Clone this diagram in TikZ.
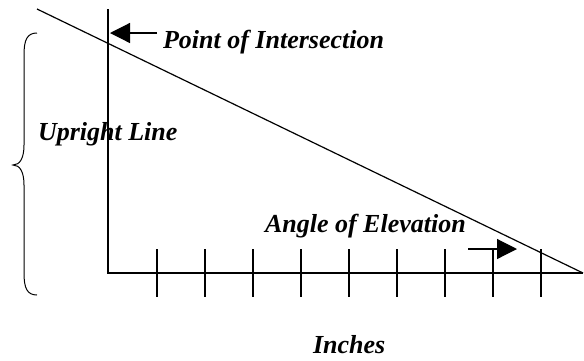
\documentclass[tikz,border=0pt]{standalone}
\usepackage{fontspec}
\setmainfont{Liberation Serif}
\usetikzlibrary{arrows.meta, positioning}

\begin{document}
\begin{tikzpicture}[
    x=1pt, y=-1pt,
    line width=1.2pt,
    lbl/.style={font=\fontsize{26}{30}\selectfont\bfseries\itshape, inner sep=0pt, outer sep=0pt},
    pointer/.style={-{Triangle[length=20pt, width=20pt]}, line width=1.2pt}
]
    \useasboundingbox (0,0) rectangle (584,360);

    \coordinate (start) at (37,9);
    \coordinate (top) at (108,9);
    \coordinate (corner) at (108,273);
    \coordinate (far) at (583,273);

    \draw (top) -- (corner) -- (far);
    \draw (start) -- (far);

    % marcas
    \foreach \x in {157,205,...,541}
        \draw[line width=1.5pt] (\x,249) -- (\x,297);

    \node[lbl, anchor=base west] (point) at (163,48) {Point of Intersection};
    \node[lbl, anchor=base west] (upright) at (38,140) {Upright Line};
    \node[lbl, anchor=base west] (angle) at (265,232) {Angle of Elevation};
    \node[lbl, anchor=base west, text depth=0pt] (inches) at (313,353) {Inches};

    \coordinate (pointtip) at (110,33);
    \draw[pointer] (point.west |- pointtip) ++(-6,0) -- (pointtip);

    \coordinate (angletail) at (468,249);
    \coordinate (angletip) at (517,249);
    \draw[pointer] (angletail) -- (angletip);

    % llave
    \draw[line width=1pt] (37,33) .. controls (27,33) and (24,40) .. (24,55)
        -- (24,145) .. controls (24,158) and (20,165) .. (13,165)
        .. controls (20,165) and (24,172) .. (24,185)
        -- (24,273) .. controls (24,288) and (27,295) .. (37,295);
\end{tikzpicture}
\end{document}
